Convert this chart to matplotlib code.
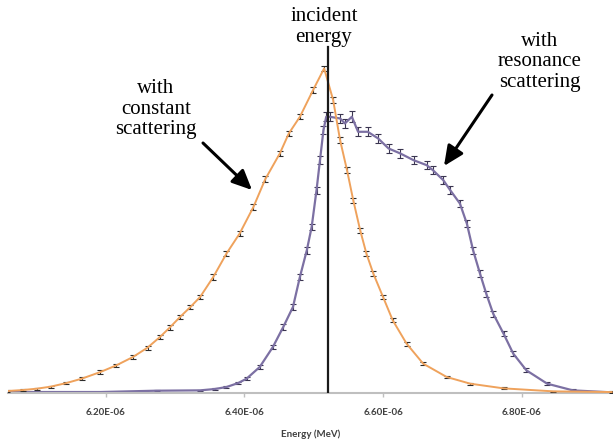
import matplotlib
matplotlib.use("Agg")
import matplotlib.pyplot as plt
from matplotlib.ticker import FuncFormatter

# Energy in units of 1e-6 MeV, counts in arbitrary units
const_E = [6.057, 6.080, 6.100, 6.120, 6.143, 6.165, 6.192, 6.215, 6.239, 6.260,
           6.278, 6.292, 6.307, 6.322, 6.336, 6.355, 6.374, 6.393, 6.413, 6.430,
           6.451, 6.464, 6.480, 6.499, 6.515, 6.528, 6.538, 6.548, 6.557, 6.567,
           6.576, 6.586, 6.600, 6.614, 6.634, 6.658, 6.692, 6.726, 6.774, 6.846, 6.930]
const_y = [5, 8, 12, 18, 29, 42, 62, 82, 107, 135,
           167, 195, 227, 257, 287, 347, 417, 477, 557, 640,
           717, 777, 827, 907, 972, 877, 757, 667, 577, 487,
           417, 357, 287, 217, 147, 87, 47, 27, 13, 4, 2]
const_err = [2, 2, 3, 3, 4, 4, 5, 5, 6, 6,
             6, 7, 7, 7, 7, 8, 8, 8, 8, 8,
             8, 8, 8, 8, 8, 8, 8, 8, 8, 8,
             7, 7, 7, 6, 6, 5, 4, 3, 3, 2, 2]

reson_E = [6.059, 6.192, 6.273, 6.336, 6.357, 6.374, 6.391, 6.403, 6.422, 6.441,
           6.456, 6.470, 6.480, 6.490, 6.497, 6.504, 6.509, 6.514, 6.518, 6.523,
           6.538, 6.545, 6.555, 6.564, 6.578, 6.593, 6.608, 6.625, 6.644, 6.663,
           6.672, 6.687, 6.697, 6.711, 6.721, 6.730, 6.740, 6.749, 6.759, 6.774,
           6.788, 6.807, 6.837, 6.874, 6.930]
reson_y = [2, 2, 6, 7, 11, 17, 29, 42, 77, 137,
           197, 257, 347, 427, 497, 607, 697, 787, 827, 827,
           822, 807, 827, 782, 782, 762, 732, 717, 697, 682,
           667, 637, 607, 567, 507, 427, 357, 297, 237, 177,
           117, 67, 27, 7, 1]
reson_err = [1, 1, 2, 2, 3, 3, 4, 5, 6, 7,
             8, 9, 9, 10, 10, 11, 11, 12, 13, 14,
             14, 14, 16, 14, 14, 13, 13, 13, 13, 12,
             12, 12, 12, 11, 11, 10, 10, 9, 9, 8,
             7, 6, 4, 3, 2]

incident_E = 6.52
incident_top = 1036
xticks = [6.2, 6.4, 6.6, 6.8]

SCALE = 1e-6

fig = plt.figure(figsize=(6.13, 4.46), dpi=100)
ax = fig.add_axes([8/613, 53.3/446, 605/613, 392.7/446])

orange = '#EFA25C'
purple = '#7C70A3'

ax.errorbar([e*SCALE for e in const_E], const_y, yerr=const_err, color=orange, lw=1.4,
            ecolor='#2b2b2b', elinewidth=0.8, capsize=2.2, capthick=0.8, zorder=3)
ax.errorbar([e*SCALE for e in reson_E], reson_y, yerr=reson_err, color=purple, lw=1.6,
            ecolor='#3a3550', elinewidth=0.8, capsize=2.2, capthick=0.8, zorder=2)

ax.plot([incident_E*SCALE, incident_E*SCALE], [0, incident_top], color='#1a1a1a', lw=1.6, zorder=4)

ax.set_xlim(6.0586*SCALE, 6.932*SCALE)
ax.set_ylim(0, 1177)
ax.set_xticks([t*SCALE for t in xticks])
ax.xaxis.set_major_formatter(FuncFormatter(lambda v, p: f"{v:.2E}"))
ax.set_yticks([])
for s in ['top', 'right', 'left']:
    ax.spines[s].set_visible(False)
ax.spines['bottom'].set_color('#BFBFBF')
ax.spines['bottom'].set_linewidth(1.5)
ax.tick_params(axis='x', direction='out', length=3, width=1, color='#BFBFBF', pad=8,
               labelsize=7, labelcolor='#404040')
for lab in ax.get_xticklabels():
    lab.set_fontfamily('Lato')
    lab.set_fontweight('bold')
ax.set_xlabel('Energy (MeV)', fontsize=7, fontfamily='Lato', fontweight='bold',
              color='#404040', labelpad=9)

serif = 'Liberation Serif'
H = 446
fig.text(324/613, (H-27)/H, 'incident\nenergy', ha='center', va='center',
         fontsize=15, family=serif, linespacing=1.1)
fig.text(156/613, (H-109)/H, 'with\nconstant\nscattering', ha='center', va='center',
         fontsize=15, family=serif, linespacing=1.1)
fig.text(540/613, (H-62)/H, 'with\nresonance\nscattering', ha='center', va='center',
         fontsize=15, family=serif, linespacing=1.1)

arrowprops = dict(arrowstyle='-|>,head_length=1.2,head_width=0.55', color='black', lw=2.2,
                  shrinkA=0, shrinkB=0)
ax.annotate('', xy=(252, H-190), xycoords='figure pixels',
            xytext=(203, H-143), textcoords='figure pixels', arrowprops=arrowprops)
ax.annotate('', xy=(444, H-166), xycoords='figure pixels',
            xytext=(492, H-95), textcoords='figure pixels', arrowprops=arrowprops)

fig.savefig('out.png', dpi=100)
